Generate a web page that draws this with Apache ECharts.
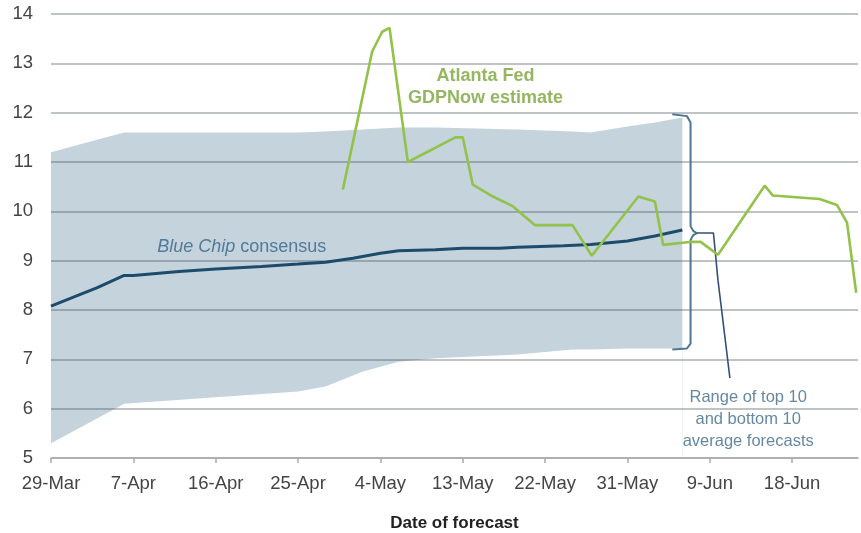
<!DOCTYPE html>
<html><head><meta charset="utf-8">
<script src="https://cdn.jsdelivr.net/npm/echarts@6/dist/echarts.min.js"></script>
<style>html,body{margin:0;padding:0;background:#fff}#c{width:861px;height:533px}</style>
</head><body><div id="c"></div>
<script>
// x values are days since 29-Mar
const tickLabels = ['29-Mar','7-Apr','16-Apr','25-Apr','4-May','13-May','22-May','31-May','9-Jun','18-Jun'];
const tickDays = [0, 9, 18, 27, 36, 45, 54, 63, 72, 81];

const bandDays  = [0, 3, 8, 18, 27, 30, 34, 38, 42, 51, 57, 59, 63, 66, 69];
const bandLower = [5.3, 5.6, 6.1, 6.23, 6.35, 6.45, 6.75, 6.95, 7.02, 7.1, 7.2, 7.2, 7.22, 7.22, 7.22];
const bandUpper = [11.2, 11.35, 11.6, 11.6, 11.6, 11.62, 11.66, 11.7, 11.7, 11.66, 11.62, 11.6, 11.72, 11.8, 11.9];

const blueDays   = [0, 3, 5, 8, 9, 14, 18, 23, 27, 30, 33, 36, 38, 42, 45, 49, 51, 56, 59, 63, 66, 69];
const blueValues = [8.08, 8.3, 8.45, 8.7, 8.7, 8.78, 8.83, 8.88, 8.93, 8.97, 9.05, 9.15, 9.2, 9.22, 9.25, 9.25, 9.27, 9.3, 9.33, 9.4, 9.5, 9.62];

const gdpDays   = [31.9, 35.1, 36.2, 37, 39, 44.2, 45, 46.1, 48.3, 50.5, 52.9, 57, 59.1, 64.2, 66, 66.9, 69.8, 71, 72.9, 78, 78.9, 84, 85.9, 87, 88];
const gdpValues = [10.44, 13.24, 13.64, 13.72, 11.0, 11.5, 11.5, 10.54, 10.3, 10.1, 9.72, 9.72, 9.1, 10.3, 10.2, 9.32, 9.38, 9.38, 9.12, 10.52, 10.32, 10.25, 10.13, 9.77, 8.35];

const bracketPts = [[67.9, 11.97], [69.5, 11.93], [69.9, 11.8], [69.9, 9.7], [70.2, 9.6], [70.6, 9.56], [70.2, 9.52], [69.9, 9.42], [69.9, 7.32], [69.5, 7.22], [67.9, 7.2]];
const pointerPts = [[70.6, 9.56], [72.4, 9.56], [72.9, 8.6], [74.2, 6.62]];

const labelGdp = {pos: [47.5, 12.52], text: 'Atlanta Fed\nGDPNow estimate'};
const labelBlue = {pos: [11.6, 9.28], text: '{i|Blue Chip} consensus'};
const labelRange = {pos: [76.2, 5.79], text: 'Range of top 10\nand bottom 10\naverage forecasts'};

const chart = echarts.init(document.getElementById('c'));
const FONT = 'Liberation Sans, Arial, sans-serif';
const zip = (a, b) => a.map((d, i) => [d, b[i]]);

chart.setOption({
  animation: false,
  grid: {left: 51, right: 3, top: 14, bottom: 75, containLabel: false, outerBoundsMode: 'none'},
  xAxis: {
    type: 'value', min: 0, max: 88.2, interval: 9, z: 3,
    name: 'Date of forecast', nameLocation: 'middle', nameGap: 57,
    nameTextStyle: {fontFamily: FONT, fontSize: 17, fontWeight: 'bold', color: '#222'},
    axisLine: {show: true, lineStyle: {color: '#aaa', width: 1.5}},
    axisTick: {show: true, length: 5, customValues: tickDays, lineStyle: {color: '#aaa', width: 1.5}},
    axisLabel: {fontFamily: FONT, fontSize: 18.5, color: '#444', margin: 16, customValues: tickDays,
      formatter: v => { const i = tickDays.indexOf(Math.round(v)); return i >= 0 ? tickLabels[i] : ''; }},
    splitLine: {show: false}
  },
  yAxis: {
    type: 'value', min: 5, max: 14, interval: 1, z: 3,
    axisLine: {show: false}, axisTick: {show: false},
    axisLabel: {fontFamily: FONT, fontSize: 18.5, color: '#444', margin: 18},
    splitLine: {show: true, lineStyle: {color: 'rgba(55,65,75,0.42)', width: 1.5}}
  },
  series: [
    {type: 'line', data: zip(bandDays, bandUpper), symbol: 'none',
     lineStyle: {width: 0}, areaStyle: {color: '#c5d3dc', opacity: 1}, z: 1, silent: true},
    {type: 'line', data: zip(bandDays, bandLower), symbol: 'none',
     lineStyle: {width: 0}, areaStyle: {color: '#ffffff', opacity: 1}, z: 2, silent: true},
    {type: 'line', data: zip(blueDays, blueValues), symbol: 'none',
     lineStyle: {color: '#1d4b6b', width: 3}, z: 5},
    {type: 'line', data: zip(gdpDays, gdpValues), symbol: 'none',
     lineStyle: {color: '#92c24a', width: 2.6}, z: 6},
    {type: 'line', data: bracketPts, symbol: 'none',
     lineStyle: {color: '#4f7590', width: 2}, z: 4},
    {type: 'line', data: pointerPts, symbol: 'none',
     lineStyle: {color: '#34507a', width: 1.6}, z: 4},
    {type: 'scatter', symbolSize: 0, z: 7, silent: true,
     data: [
       {value: labelGdp.pos, label: {show: true, position: 'inside', formatter: labelGdp.text, fontFamily: FONT,
         fontSize: 18, fontWeight: 'bold', color: '#7aa43a', lineHeight: 22, align: 'center'}},
       {value: labelBlue.pos, label: {show: true, position: 'right', distance: 0, formatter: labelBlue.text, fontFamily: FONT,
         fontSize: 18, color: '#33658a', rich: {i: {fontStyle: 'italic', fontFamily: FONT, fontSize: 18, color: '#33658a'}}}},
       {value: labelRange.pos, label: {show: true, position: 'inside', formatter: labelRange.text, fontFamily: FONT,
         fontSize: 16.5, color: '#3d6a8c', lineHeight: 22, align: 'center'}}
     ]}
  ]
});
</script></body></html>
